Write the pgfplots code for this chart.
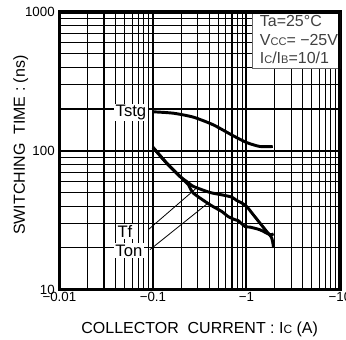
\documentclass[border=0pt]{standalone}
\usepackage{fontspec}
\setmainfont{Liberation Sans}
\usepackage{pgfplots}
\pgfplotsset{compat=1.18}
\newcommand\sm[1]{{\fontsize{8.3}{8.3}\selectfont #1}}
\newcommand\smx[1]{{\fontsize{9}{9}\selectfont #1}}
\begin{document}
\begin{tikzpicture}
\begin{axis}[
  name=ax,
  at={(0,0)}, anchor=south west,
  scale only axis, width=210.75pt, height=208.5pt,
  xmode=log, ymode=log,
  xmin=0.01, xmax=10, ymin=10, ymax=1000,
  xtick={0.01,0.1,1,10}, xticklabels={−0.01,−0.1,−1,−10},
  ytick={10,100,1000}, yticklabels={10,100,1000},
  minor xtick={0.02,0.03,0.04,0.05,0.06,0.07,0.08,0.09,0.2,0.3,0.4,0.5,0.6,0.7,0.8,0.9,2,3,4,5,6,7,8,9},
  minor ytick={20,30,40,50,60,70,80,90,200,300,400,500,600,700,800,900},
  grid=both,
  major grid style={black, line width=1.5pt},
  minor grid style={black, line width=0.8pt},
  major tick length=0pt, minor tick length=0pt,
  axis line style={line width=2.4pt},
  tick label style={font=\fontsize{10}{10}\selectfont},
  xticklabel style={yshift=1.5pt},
  /pgf/number format/assume math mode=true,
  xlabel={COLLECTOR\ \ CURRENT : I\smx{C} (A)},
  ylabel={SWITCHING\ \ TIME : (ns)},
  label style={font=\fontsize{12}{12}\selectfont},
  xlabel style={at={(axis description cs:0.5,-0.158)}, anchor=base},
  ylabel style={at={(axis description cs:-0.123,0.52)}, anchor=base},
]
% Tstg
\addplot[black, line width=2.2pt, smooth, tension=0.4] coordinates {
 (0.1003,191) (0.165,186.6) (0.27,174.8) (0.442,153.8) (0.723,128.2)
 (1.005,114.7) (1.39,107.4) (1.91,107.4)};
% Tf
\addplot[black, line width=2.2pt, smooth, tension=0.4] coordinates {
 (0.1,106) (0.14,81.6) (0.195,65.3) (0.239,58.9) (0.27,55.4) (0.407,50.1)
 (0.543,48.2) (0.695,46.4) (0.785,43.9) (0.889,42.1) (1.005,39.7)
 (1.18,34.7) (1.39,30.2) (1.64,26.3) (1.86,23.6) (1.95,20)};
% Ton
\addplot[black, line width=2.2pt, smooth, tension=0.4] coordinates {
 (0.1,106) (0.14,81.6) (0.195,65.3) (0.239,57.0) (0.27,49.6) (0.407,40.9)
 (0.543,36.6) (0.638,33.6) (0.753,31.9) (0.817,31.4) (0.964,28.5)
 (1.09,28.2) (1.39,27.0) (1.78,24.9) (1.95,25.2)};
% pointers
\draw[black, line width=0.6pt] (axis cs:0.0891,27.0) -- (axis cs:0.293,54.0);
\draw[black, line width=0.6pt] (axis cs:0.0929,19.4) -- (axis cs:0.390,42.1);
% curve labels
\node[fill=white, inner sep=1pt, font=\fontsize{12.5}{12.5}\selectfont] at (axis cs:0.0582,189) {Tstg};
\node[fill=white, inner sep=1pt, font=\fontsize{12.5}{12.5}\selectfont] at (axis cs:0.0502,26.1) {Tf};
\node[fill=white, inner sep=1pt, font=\fontsize{12.5}{12.5}\selectfont] at (axis cs:0.0553,19.1) {Ton};
% condition box
\draw[black!60, line width=0.6pt, fill=white] (rel axis cs:0.689,0.795) rectangle (rel axis cs:1,1);
\draw[black, line width=2.4pt] (rel axis cs:0.68,1) -- (rel axis cs:1,1) -- (rel axis cs:1,0.78);
\node[anchor=base west, inner sep=0pt, text=black!75, font=\fontsize{12}{12}\selectfont] at (rel axis cs:0.7135,0.947) {Ta=25°C};
\node[anchor=base west, inner sep=0pt, text=black!75, font=\fontsize{12}{12}\selectfont] at (rel axis cs:0.7135,0.881) {V\sm{CC}= −25V};
\node[anchor=base west, inner sep=0pt, text=black!75, font=\fontsize{12}{12}\selectfont] at (rel axis cs:0.7135,0.815) {I\sm{C}/I\sm{B}=10/1};
\end{axis}
\pgfresetboundingbox
\useasboundingbox ([xshift=-44.6pt,yshift=-37.5pt]ax.south west) rectangle ([xshift=4.5pt,yshift=9pt]ax.north east);
\end{tikzpicture}
\end{document}
